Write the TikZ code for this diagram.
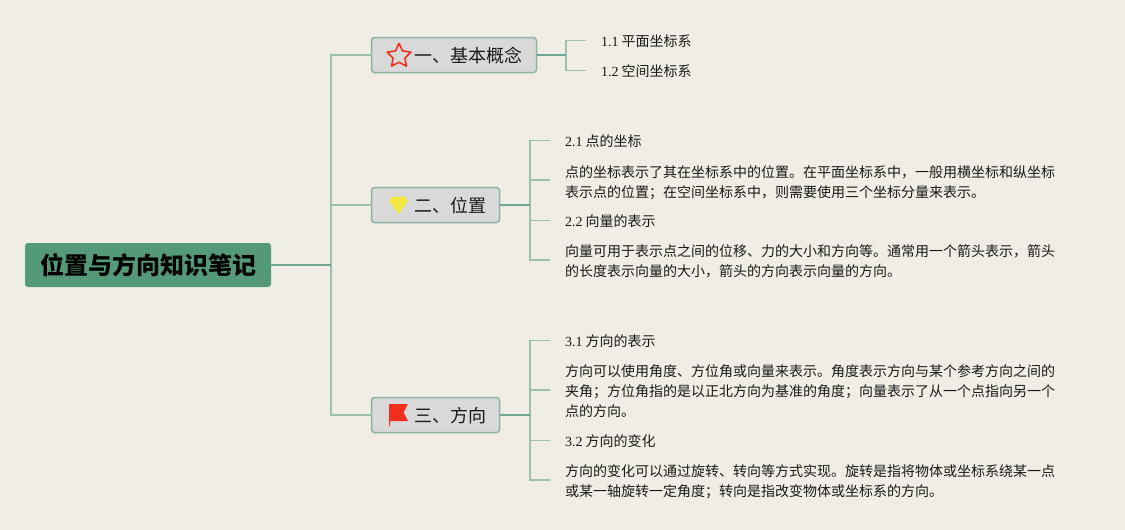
\documentclass[tikz,border=0pt]{standalone}
\usepackage{fontspec}
\setmainfont{Noto Sans CJK SC}
\newfontfamily\latinnum{Liberation Serif}
\usetikzlibrary{positioning, shapes.geometric}
\definecolor{paper}{HTML}{F0EDE4}
\definecolor{rootgreen}{HTML}{559A78}
\definecolor{trunkgreen}{HTML}{6FA593}
\definecolor{twiggreen}{HTML}{9DBFAB}
\definecolor{boxedge}{HTML}{8FB3A3}
\definecolor{boxgray}{HTML}{D9D9D9}
\definecolor{iconred}{HTML}{F0301C}
\definecolor{iconyellow}{HTML}{F2E640}
\tikzset{
x=1pt, y=-1pt,
root/.style={fill=rootgreen, rounded corners=3pt, minimum width=246pt, minimum height=44pt, inner sep=0pt, outer sep=0pt, font=\fontsize{24}{28}\selectfont\bfseries, text=black},
branch/.style={draw=boxedge, line width=1.5pt, fill=boxgray, rounded corners=3pt, minimum height=35pt, inner sep=0pt, outer sep=0pt},
title/.style={font=\fontsize{18}{22}\selectfont, inner sep=0pt, text=black!90, anchor=west},
leaf/.style={inner sep=0pt, outer sep=0pt, align=left, font=\fontsize{14}{20}\selectfont, text=black!90},
trunk/.style={draw=trunkgreen, line width=1.8pt},
twig/.style={draw=twiggreen, line width=1.8pt},
}
\newcommand{\nm}[1]{{\latinnum #1}}

\begin{document}
\begin{tikzpicture}
        \useasboundingbox[fill=paper] (0,0) rectangle (1125,530);

        % root and the three branches
        \node[root] (R) at (148,265) {\hspace{1pt}位置与方向知识笔记};
        \node[branch, minimum width=165pt, right=100.5pt of R, yshift=210pt] (B1) {};
        \node[branch, minimum width=128pt, right=100.5pt of R, yshift=60pt] (B2) {};
        \node[branch, minimum width=128pt, right=100.5pt of R, yshift=-150pt] (B3) {};

        % branch titles
        \node[title] (T1) at (414,55.5) {一、基本概念};
        \node[title] (T2) at (414,205.5) {二、位置};
        \node[title] (T3) at (414,415.5) {三、方向};

        % icons
        \node[star, star points=5, star point ratio=2.0, draw=iconred, line width=1.6pt, line join=round, fill=boxgray, minimum size=25pt, inner sep=0pt] (I1) at (399,56) {};
        \fill[iconyellow] (389,201) -- (392,196.5) -- (405,196.5) -- (408,201) -- (398.5,214) -- cycle;
        \fill[iconred] (389,404) -- (408,404) -- (403.5,412.5) -- (408,421) -- (390,421) -- (390,426) -- (389,426) -- cycle;

        % leaves of branch 1
        \node[leaf, right=64.5pt of B1, yshift=13.5pt] (L11) {\nm{1.1} 平面坐标系};
        \node[leaf, right=64.5pt of B1, yshift=-16.5pt] (L12) {\nm{1.2} 空间坐标系};

        % leaves of branch 2
        \node[leaf, right=65.5pt of B2, yshift=63.5pt] (L21) {\nm{2.1} 点的坐标};
        \node[leaf, right=65.5pt of B2, yshift=22.5pt] (L22) {点的坐标表示了其在坐标系中的位置。在平面坐标系中，一般用横坐标和纵坐标\\表示点的位置；在空间坐标系中，则需要使用三个坐标分量来表示。};
        \node[leaf, right=65.5pt of B2, yshift=-16.5pt] (L23) {\nm{2.2} 向量的表示};
        \node[leaf, right=65.5pt of B2, yshift=-56pt] (L24) {向量可用于表示点之间的位移、力的大小和方向等。通常用一个箭头表示，箭头\\的长度表示向量的大小，箭头的方向表示向量的方向。};

        % leaves of branch 3
        \node[leaf, right=65.5pt of B3, yshift=73.5pt] (L31) {\nm{3.1} 方向的表示};
        \node[leaf, right=65.5pt of B3, yshift=24pt] (L32) {方向可以使用角度、方位角或向量来表示。角度表示方向与某个参考方向之间的\\夹角；方位角指的是以正北方向为基准的角度；向量表示了从一个点指向另一个\\点的方向。};
        \node[leaf, right=65.5pt of B3, yshift=-26.5pt] (L33) {\nm{3.2} 方向的变化};
        \node[leaf, right=65.5pt of B3, yshift=-67pt] (L34) {方向的变化可以通过旋转、转向等方式实现。旋转是指将物体或坐标系绕某一点\\或某一轴旋转一定角度；转向是指改变物体或坐标系的方向。};

        % hubs
        \coordinate[right=60pt of R] (H0);
        \coordinate[right=29.5pt of B1] (H1);
        \coordinate[right=30.5pt of B2] (H2);
        \coordinate[right=30.5pt of B3] (H3);

        % connectors
        \draw[twig] (H0) |- (B1);
        \draw[twig] (H0) -- (H0 |- B2.west) -- (B2);
        \draw[twig] (H0) |- (B3);
        \draw[trunk] (R) -- (H0);

        \draw[twig] (H1) |- ([xshift=-15pt, yshift=1pt]L11.west);
        \draw[twig] (H1) |- ([xshift=-15pt, yshift=1pt]L12.west);
        \draw[trunk] (B1) -- (H1);

        \draw[twig] (H2) |- ([xshift=-15pt, yshift=1pt]L21.west);
        \draw[twig] (H2) |- ([xshift=-15pt, yshift=2.5pt]L22.west);
        \draw[twig] (H2) |- ([xshift=-15pt, yshift=1pt]L23.west);
        \draw[twig] (H2) |- ([xshift=-15pt, yshift=1pt]L24.west);
        \draw[trunk] (B2) -- (H2);

        \draw[twig] (H3) |- ([xshift=-15pt, yshift=1pt]L31.west);
        \draw[twig] (H3) |- ([xshift=-15pt, yshift=1pt]L32.west);
        \draw[twig] (H3) |- ([xshift=-15pt, yshift=1pt]L33.west);
        \draw[twig] (H3) |- ([xshift=-15pt, yshift=2pt]L34.west);
        \draw[trunk] (B3) -- (H3);
    \end{tikzpicture}
\end{document}
